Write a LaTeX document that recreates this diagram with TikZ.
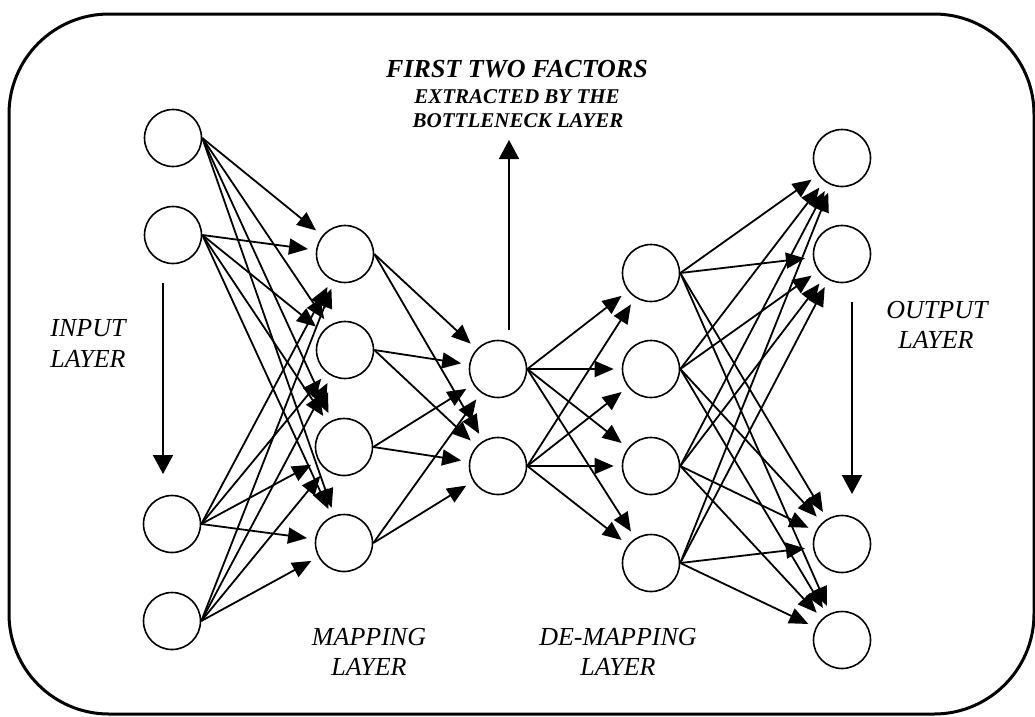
\documentclass[tikz,border=0pt]{standalone}
\usepackage{fontspec}
\setmainfont{Liberation Serif}
\usetikzlibrary{arrows.meta}

\begin{document}
\begin{tikzpicture}[x=1pt,y=-1pt,
  neuron/.style={circle,draw,line width=1.6pt,minimum size=57pt,inner sep=0pt},
  link/.style={-{Triangle[length=19pt,width=16pt]},line width=1.8pt,shorten >=8pt},
  flow/.style={-{Triangle[length=19pt,width=20pt]},line width=1.8pt},
  lbl/.style={font=\fontsize{26}{30}\selectfont\itshape,anchor=base,inner sep=0pt},
  ttlbig/.style={font=\fontsize{26}{30}\selectfont\bfseries\itshape,anchor=base,inner sep=0pt},
  ttlsmall/.style={font=\fontsize{21}{25}\selectfont\bfseries\itshape,anchor=base,inner sep=0pt}]
\useasboundingbox (0,0) rectangle (1035,716);

% frame
\draw[line width=3pt,rounded corners=100pt] (9,14) rectangle (1034,714);

% input layer
\node[neuron] (i1) at (173,138) {};
\node[neuron] (i2) at (173,235) {};
\node[neuron] (i3) at (172,524) {};
\node[neuron] (i4) at (172,621) {};
% mapping layer
\node[neuron] (m1) at (345,254) {};
\node[neuron] (m2) at (345,350) {};
\node[neuron] (m3) at (344,447) {};
\node[neuron] (m4) at (344,543) {};
% bottleneck layer
\node[neuron] (b1) at (498,369) {};
\node[neuron] (b2) at (498,466) {};
% de-mapping layer
\node[neuron] (d1) at (651,273) {};
\node[neuron] (d2) at (651,369) {};
\node[neuron] (d3) at (651,466) {};
\node[neuron] (d4) at (651,563) {};
% output layer
\node[neuron] (o1) at (842,158) {};
\node[neuron] (o2) at (842,254) {};
\node[neuron] (o3) at (842,544) {};
\node[neuron] (o4) at (842,640) {};

% full connections between adjacent layers
\foreach \s in {1,...,4}
  \foreach \t in {1,...,4}
    \draw[link] (i\s.east) -- (m\t);
\foreach \s in {1,...,4}
  \foreach \t in {1,2}
    \draw[link] (m\s.east) -- (b\t);
\foreach \s in {1,2}
  \foreach \t in {1,...,4}
    \draw[link] (b\s.east) -- (d\t);
\foreach \s in {1,...,4}
  \foreach \t in {1,...,4}
    \draw[link] (d\s.east) -- (o\t);

% direction arrows
\coordinate (inTop) at (163,283);
\coordinate (inBot) at (163,474);
\draw[flow] (inTop) -- (inBot);
\coordinate (outTop) at (852,302);
\coordinate (outBot) at (852,494);
\draw[flow] (outTop) -- (outBot);
\coordinate (upStart) at (509,330);
\coordinate (upEnd) at (509,140);
\draw[flow] (upStart) -- (upEnd);

% labels
\node[lbl] (inA) at (88,336) {INPUT};
\node[lbl] (inB) at (88,367) {LAYER};
\node[lbl] (outA) at (937,318) {OUTPUT};
\node[lbl] (outB) at (936,348) {LAYER};
\node[lbl] (mapA) at (369,645) {MAPPING};
\node[lbl] (mapB) at (369,675) {LAYER};
\node[lbl] (dmapA) at (618,645) {DE-MAPPING};
\node[lbl] (dmapB) at (618,675) {LAYER};
\node[ttlbig] (tA) at (517,77) {FIRST TWO FACTORS};
\node[ttlsmall] (tB) at (517,103) {EXTRACTED BY THE};
\node[ttlsmall] (tC) at (518,127) {BOTTLENECK LAYER};
\end{tikzpicture}
\end{document}
